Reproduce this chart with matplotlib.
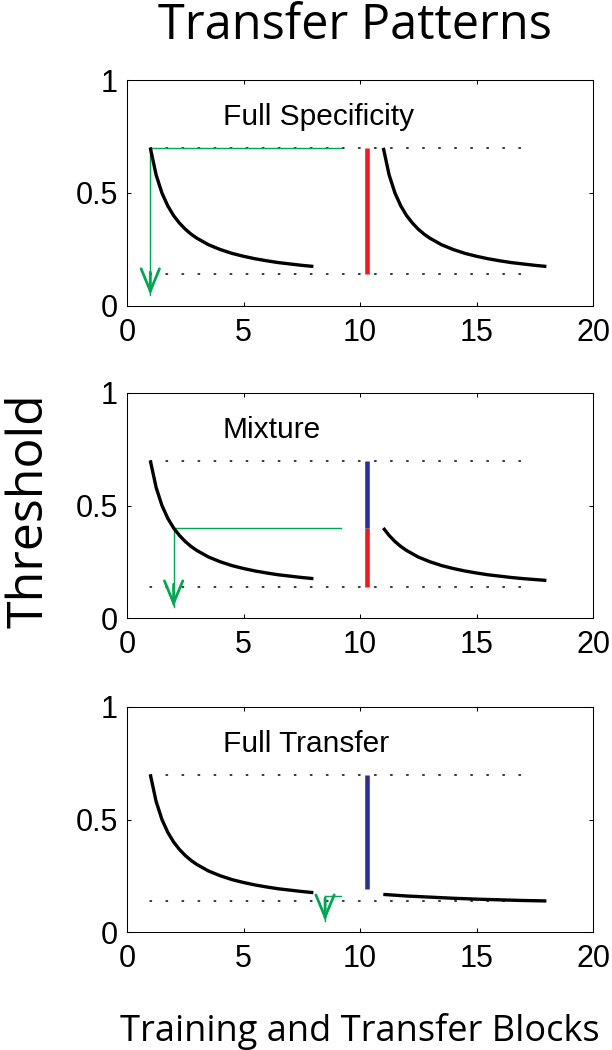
import numpy as np
import matplotlib
matplotlib.use("Agg")
import matplotlib.pyplot as plt

# ---------------- data ----------------
panel_titles = ["Full Specificity", "Mixture", "Full Transfer"]

train_x = [1, 1.25, 1.5, 1.75, 2, 2.25, 2.5, 2.75, 3, 3.5, 4, 4.5, 5, 5.5, 6, 6.5, 7, 7.5, 8]
train_y = [0.700, 0.580, 0.500, 0.443, 0.400, 0.367, 0.340, 0.318, 0.300, 0.271, 0.250,
           0.233, 0.220, 0.209, 0.200, 0.192, 0.186, 0.180, 0.175]

spec_x = [11, 11.25, 11.5, 11.75, 12, 12.25, 12.5, 12.75, 13, 13.5, 14, 14.5, 15, 15.5, 16, 16.5, 17, 17.5, 18]
spec_y = [0.700, 0.580, 0.500, 0.443, 0.400, 0.367, 0.340, 0.318, 0.300, 0.271, 0.250,
          0.233, 0.220, 0.209, 0.200, 0.192, 0.186, 0.180, 0.175]

mix_x = [11, 11.25, 11.5, 11.75, 12, 12.5, 13, 13.5, 14, 14.5, 15, 15.5, 16, 16.5, 17, 17.5, 18]
mix_y = [0.400, 0.367, 0.340, 0.318, 0.300, 0.271, 0.250, 0.233, 0.220, 0.209, 0.200,
         0.192, 0.186, 0.180, 0.175, 0.171, 0.167]

full_x = [11, 12, 13, 14, 15, 16, 17, 18]
full_y = [0.167, 0.160, 0.155, 0.150, 0.146, 0.143, 0.140, 0.138]

transfer_x = [spec_x, mix_x, full_x]
transfer_y = [spec_y, mix_y, full_y]

ref_levels = [0.70, 0.14]          # dotted reference lines
ref_xrange = [1, 17]

bar_x = 10.3
# (bottom, top, colour key) segments of the transfer bar per panel
bar_segments = [
    [(0.14, 0.70, "red")],
    [(0.14, 0.40, "red"), (0.40, 0.70, "blue")],
    [(0.19, 0.70, "blue")],
]

# green guide: start x (on curve), level, horizontal end x, arrow tip y
guide_x = [1.0, 2.0, 8.5]
guide_level = [0.70, 0.40, 0.16]
guide_end_x = 9.2
arrow_tip_y = 0.05
arrow_head_len = 0.10

xticks = [0, 5, 10, 15, 20]
yticks = [0, 0.5, 1]
yticklabels = ["0", "0.5", "1"]

colors = {"red": "#EC1C24", "blue": "#2E3192", "green": "#00A651"}

# ---------------- figure ----------------
W, H, DPI = 612, 1050, 100
fig = plt.figure(figsize=(W / DPI, H / DPI), dpi=DPI)

ax_boxes = [(127, 80, 593, 306), (127, 393, 593, 618), (127, 707, 593, 932)]

for i, (l, t, r, b) in enumerate(ax_boxes):
    ax = fig.add_axes([l / W, 1 - b / H, (r - l) / W, (b - t) / H])
    ax.set_xlim(0, 20)
    ax.set_ylim(0, 1)

    # dotted reference lines
    for lev in ref_levels:
        ax.plot(ref_xrange, [lev, lev], color="black", lw=1.1,
                dashes=(1, 9.5), dash_capstyle="round", zorder=1)

    # learning curves
    ax.plot(train_x, train_y, color="black", lw=2.4, solid_capstyle="butt", zorder=3)
    ax.plot(transfer_x[i], transfer_y[i], color="black", lw=2.4, solid_capstyle="butt", zorder=3)

    # transfer bar
    for lo, hi, c in bar_segments[i]:
        ax.plot([bar_x, bar_x], [lo, hi], color=colors[c], lw=3.3,
                solid_capstyle="butt", zorder=4)

    # green guides
    gx, gl = guide_x[i], guide_level[i]
    ax.plot([gx, guide_end_x], [gl, gl], color=colors["green"], lw=1.0, zorder=2)
    ax.plot([gx, gx], [gl, arrow_tip_y], color=colors["green"], lw=1.0, zorder=2)
    ax.annotate("", xy=(gx, arrow_tip_y), xytext=(gx, arrow_tip_y + arrow_head_len),
                arrowprops=dict(arrowstyle="->,head_length=0.8,head_width=0.33",
                                color=colors["green"], lw=2.0, mutation_scale=20,
                                shrinkA=0, shrinkB=0, joinstyle="miter"),
                zorder=2)

    ax.text(4.1, 0.80, panel_titles[i], family="Liberation Sans", fontsize=21.5,
            ha="left", va="baseline")

    ax.set_xticks(xticks)
    ax.set_yticks(yticks)
    ax.set_yticklabels(yticklabels)
    ax.tick_params(direction="in", length=3, width=0.75, top=True, right=True,
                   labelsize=22)
    ax.tick_params(axis="x", pad=8.5)
    ax.tick_params(axis="y", pad=6.5)
    for lab in ax.get_xticklabels() + ax.get_yticklabels():
        lab.set_family("Liberation Sans")
    for s in ax.spines.values():
        s.set_linewidth(0.75)

fig.text(355 / W, 1 - 39 / H, "Transfer Patterns", family="Open Sans", fontsize=35,
         ha="center", va="baseline")
fig.text(43 / W, 1 - 511 / H, "Threshold", family="Open Sans", fontsize=36,
         rotation=90, rotation_mode="anchor", ha="center", va="baseline")
fig.text(360 / W, 1 - 1041 / H, "Training and Transfer Blocks", family="Open Sans",
         fontsize=26, ha="center", va="baseline")

fig.savefig("out.png", dpi=DPI)
